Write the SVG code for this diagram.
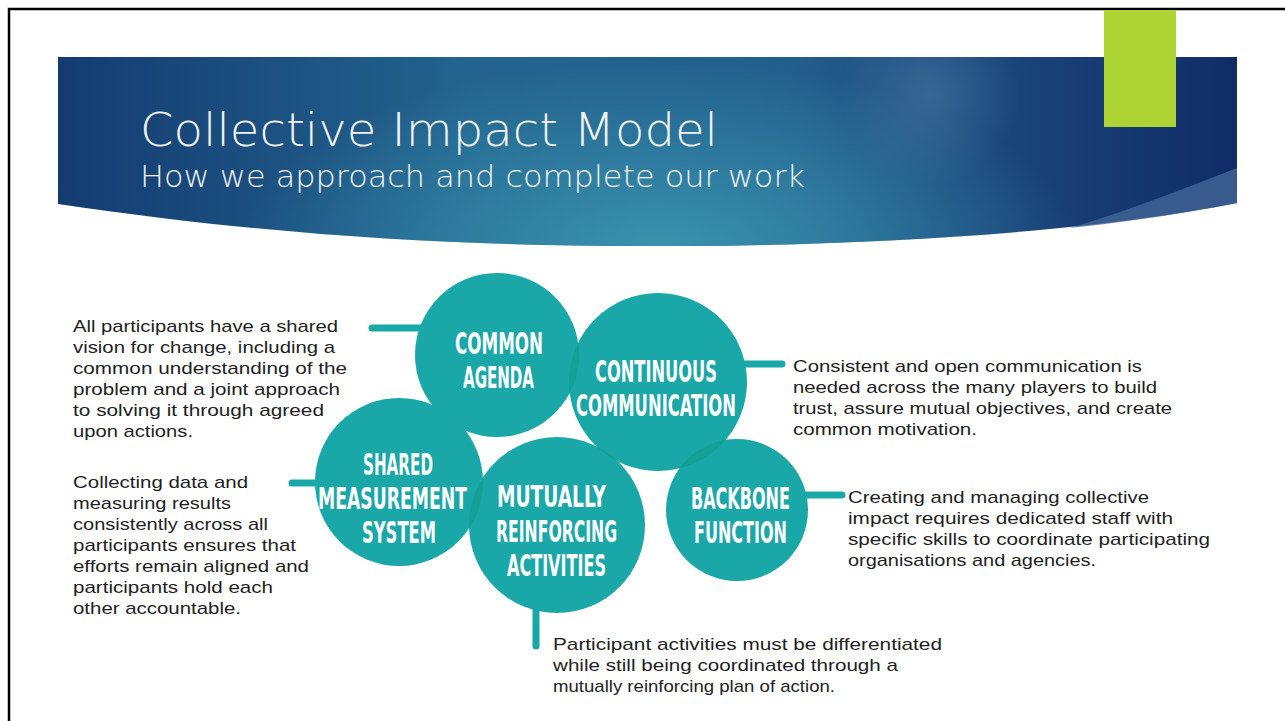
<svg xmlns="http://www.w3.org/2000/svg" width="1285" height="721" viewBox="0 0 1285 721">
<defs>
<style>
.body{font-family:"Liberation Sans","Open Sans",sans-serif;font-size:17px;fill:#1e1e1e;}
.lbl{font-family:"DejaVu Sans Condensed","DejaVu Sans","Liberation Sans",sans-serif;font-weight:bold;font-size:29.5px;fill:#ffffff;}
.ttl{font-family:"DejaVu Sans","Liberation Sans",sans-serif;font-weight:200;fill:#f2f2f2;}
.circ{fill:#1aa7a8;}
.lens{fill:#14a094;}
.conn{stroke:#1aa7a8;stroke-width:7;stroke-linecap:round;fill:none;}
</style>
<linearGradient id="bg" x1="0" y1="0" x2="1" y2="0">
<stop offset="0" stop-color="#143c72"/>
<stop offset="0.35" stop-color="#23648e"/>
<stop offset="0.62" stop-color="#235f8c"/>
<stop offset="0.85" stop-color="#183f76"/>
<stop offset="1" stop-color="#102c66"/>
</linearGradient>
<radialGradient id="glow" cx="660" cy="250" r="420" gradientUnits="userSpaceOnUse" gradientTransform="translate(660 250) scale(1 0.45) translate(-660 -250)">
<stop offset="0" stop-color="#3a95b0" stop-opacity="0.95"/>
<stop offset="1" stop-color="#3a95b0" stop-opacity="0"/>
</radialGradient>
<radialGradient id="spot" cx="930" cy="95" r="90" gradientUnits="userSpaceOnUse">
<stop offset="0" stop-color="#4f7ea6" stop-opacity="0.5"/>
<stop offset="1" stop-color="#4f7ea6" stop-opacity="0"/>
</radialGradient>
<clipPath id="cCA"><circle cx="497" cy="355" r="82"/></clipPath>
<clipPath id="cCC"><circle cx="658" cy="382" r="89"/></clipPath>
<clipPath id="cSM"><circle cx="399" cy="482" r="84"/></clipPath>
</defs>
<rect x="0" y="0" width="1285" height="721" fill="#ffffff"/>
<rect x="9" y="9" width="1300" height="740" fill="none" stroke="#000000" stroke-width="2.5"/>

<g id="banner">
<path d="M58,57 H1237 V203 C1100,230 900,245 680,246 C500,247 300,240 58,204 Z" fill="url(#bg)"/>
<path d="M58,57 H1237 V203 C1100,230 900,245 680,246 C500,247 300,240 58,204 Z" fill="url(#glow)"/>
<path d="M58,57 H1237 V203 C1100,230 900,245 680,246 C500,247 300,240 58,204 Z" fill="url(#spot)"/>
<path d="M1237,168 C1180,190 1130,210 1070,228 C1130,222 1190,212 1237,203 Z" fill="#46699a" opacity="0.75"/>
<rect x="1104" y="10" width="72" height="117" fill="#add433"/>
<text class="ttl" x="140" y="146" font-size="46" textLength="578" lengthAdjust="spacingAndGlyphs">Collective Impact Model</text>
<text class="ttl" x="140" y="187" font-size="30" textLength="665" lengthAdjust="spacingAndGlyphs">How we approach and complete our work</text>
</g>

<g id="connectors">
<path class="conn" d="M372,328 H420"/>
<path class="conn" d="M745,364 H782"/>
<path class="conn" d="M292,483 H320"/>
<path class="conn" d="M806,495 H842"/>
<path class="conn" d="M536,608 V646"/>
</g>

<g id="circles-base">
<circle class="circ" cx="497" cy="355" r="82"/>
<circle class="circ" cx="658" cy="382" r="89"/>
<circle class="circ" cx="399" cy="482" r="84"/>
<circle class="circ" cx="557" cy="525" r="88"/>
<circle class="circ" cx="737" cy="510" r="71"/>
<circle class="lens" cx="658" cy="382" r="89" clip-path="url(#cCA)"/>
<circle class="lens" cx="557" cy="525" r="88" clip-path="url(#cSM)"/>
<circle class="lens" cx="737" cy="510" r="71" clip-path="url(#cCC)"/>
<circle class="lens" cx="557" cy="525" r="88" clip-path="url(#cCC)"/>
</g>

<g id="common-agenda">
<text class="lbl" transform="translate(455,354) scale(0.7,1)" textLength="125.7" lengthAdjust="spacingAndGlyphs">COMMON</text>
<text class="lbl" transform="translate(463,388) scale(0.7,1)" textLength="101.4" lengthAdjust="spacingAndGlyphs">AGENDA</text>
</g>
<g id="continuous-communication">
<text class="lbl" transform="translate(595,382) scale(0.7,1)" textLength="174.3" lengthAdjust="spacingAndGlyphs">CONTINUOUS</text>
<text class="lbl" transform="translate(576,416) scale(0.7,1)" textLength="228.6" lengthAdjust="spacingAndGlyphs">COMMUNICATION</text>
</g>
<g id="shared-measurement">
<text class="lbl" transform="translate(363,475) scale(0.7,1)" textLength="100" lengthAdjust="spacingAndGlyphs">SHARED</text>
<text class="lbl" transform="translate(318,509) scale(0.7,1)" textLength="212.9" lengthAdjust="spacingAndGlyphs">MEASUREMENT</text>
<text class="lbl" transform="translate(362,543) scale(0.7,1)" textLength="105.7" lengthAdjust="spacingAndGlyphs">SYSTEM</text>
</g>
<g id="mutually-reinforcing">
<text class="lbl" transform="translate(497,507) scale(0.7,1)" textLength="155.7" lengthAdjust="spacingAndGlyphs">MUTUALLY</text>
<text class="lbl" transform="translate(496,542) scale(0.7,1)" textLength="172.9" lengthAdjust="spacingAndGlyphs">REINFORCING</text>
<text class="lbl" transform="translate(507,576) scale(0.7,1)" textLength="141.4" lengthAdjust="spacingAndGlyphs">ACTIVITIES</text>
</g>
<g id="backbone-function">
<text class="lbl" transform="translate(691,509) scale(0.7,1)" textLength="141.4" lengthAdjust="spacingAndGlyphs">BACKBONE</text>
<text class="lbl" transform="translate(694,543) scale(0.7,1)" textLength="132.9" lengthAdjust="spacingAndGlyphs">FUNCTION</text>
</g>

<g id="text-common-agenda">
<text class="body" x="73" y="332" textLength="265" lengthAdjust="spacingAndGlyphs">All participants have a shared</text>
<text class="body" x="73" y="353" textLength="262" lengthAdjust="spacingAndGlyphs">vision for change, including a</text>
<text class="body" x="73" y="374" textLength="274" lengthAdjust="spacingAndGlyphs">common understanding of the</text>
<text class="body" x="73" y="395" textLength="267" lengthAdjust="spacingAndGlyphs">problem and a joint approach</text>
<text class="body" x="73" y="416" textLength="251" lengthAdjust="spacingAndGlyphs">to solving it through agreed</text>
<text class="body" x="73" y="437" textLength="120" lengthAdjust="spacingAndGlyphs">upon actions.</text>
</g>
<g id="text-shared-measurement">
<text class="body" x="73" y="488" textLength="175" lengthAdjust="spacingAndGlyphs">Collecting data and</text>
<text class="body" x="73" y="509" textLength="158" lengthAdjust="spacingAndGlyphs">measuring results</text>
<text class="body" x="73" y="530" textLength="195" lengthAdjust="spacingAndGlyphs">consistently across all</text>
<text class="body" x="73" y="551" textLength="223" lengthAdjust="spacingAndGlyphs">participants ensures that</text>
<text class="body" x="73" y="572" textLength="236" lengthAdjust="spacingAndGlyphs">efforts remain aligned and</text>
<text class="body" x="73" y="593" textLength="200" lengthAdjust="spacingAndGlyphs">participants hold each</text>
<text class="body" x="73" y="614" textLength="168" lengthAdjust="spacingAndGlyphs">other accountable.</text>
</g>
<g id="text-continuous-communication">
<text class="body" x="793" y="372" textLength="349" lengthAdjust="spacingAndGlyphs">Consistent and open communication is</text>
<text class="body" x="793" y="393" textLength="364" lengthAdjust="spacingAndGlyphs">needed across the many players to build</text>
<text class="body" x="793" y="414" textLength="379" lengthAdjust="spacingAndGlyphs">trust, assure mutual objectives, and create</text>
<text class="body" x="793" y="435" textLength="184" lengthAdjust="spacingAndGlyphs">common motivation.</text>
</g>
<g id="text-backbone-function">
<text class="body" x="848" y="503" textLength="301" lengthAdjust="spacingAndGlyphs">Creating and managing collective</text>
<text class="body" x="848" y="524" textLength="325" lengthAdjust="spacingAndGlyphs">impact requires dedicated staff with</text>
<text class="body" x="848" y="545" textLength="362" lengthAdjust="spacingAndGlyphs">specific skills to coordinate participating</text>
<text class="body" x="848" y="566" textLength="248" lengthAdjust="spacingAndGlyphs">organisations and agencies.</text>
</g>
<g id="text-mutually-reinforcing">
<text class="body" x="553" y="650" textLength="389" lengthAdjust="spacingAndGlyphs">Participant activities must be differentiated</text>
<text class="body" x="553" y="671" textLength="345" lengthAdjust="spacingAndGlyphs">while still being coordinated through a</text>
<text class="body" x="553" y="692" textLength="282" lengthAdjust="spacingAndGlyphs">mutually reinforcing plan of action.</text>
</g>
</svg>
